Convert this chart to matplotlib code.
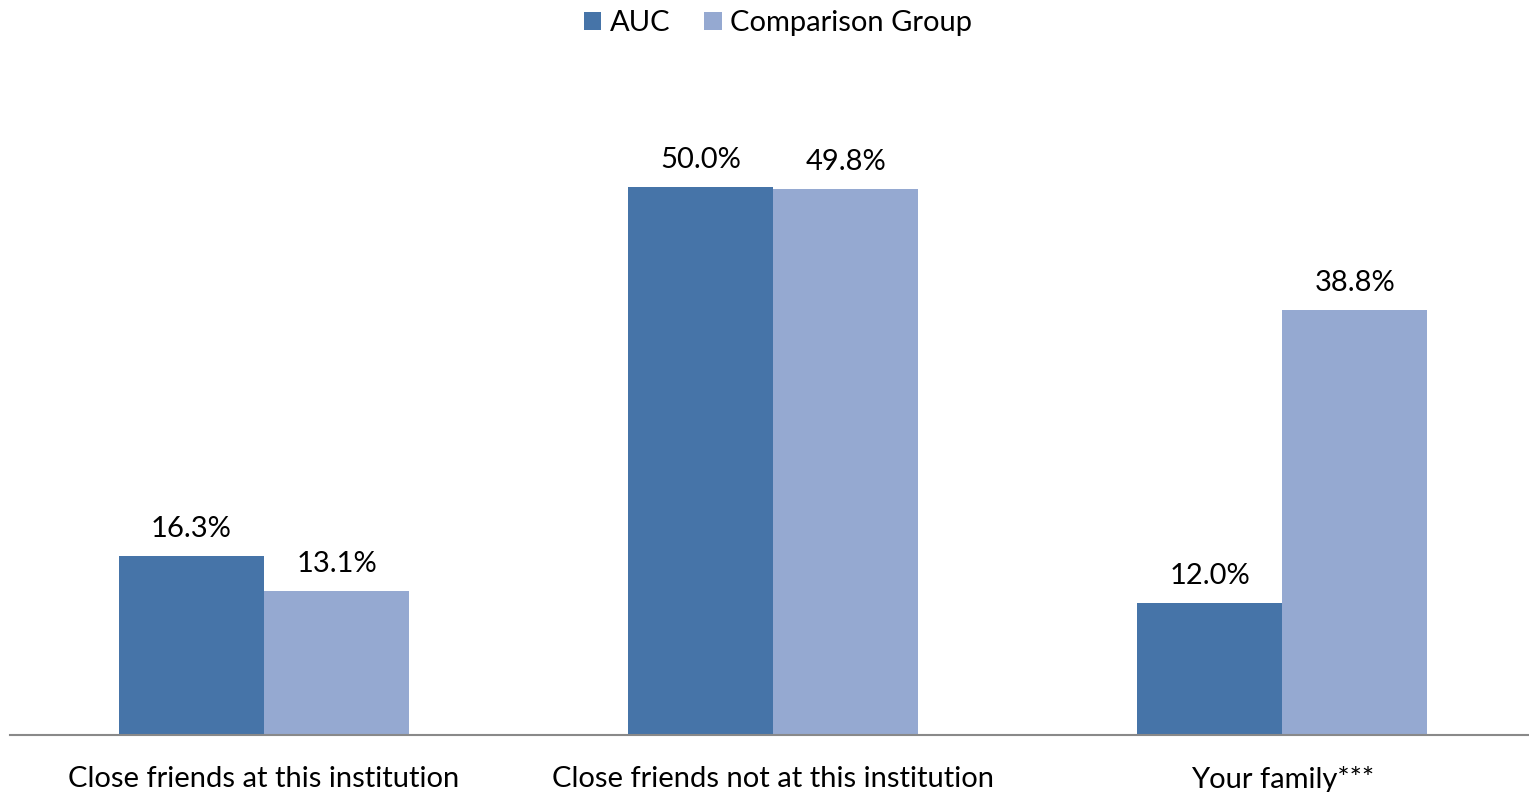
import matplotlib.pyplot as plt
import numpy as np

categories = ["Close friends at this institution",
              "Close friends not at this institution",
              "Your family***"]
auc = [16.3, 50.0, 12.0]
comparison = [13.1, 49.8, 38.8]
series_names = ["AUC", "Comparison Group"]

plt.rcParams['font.family'] = ['Lato', 'DejaVu Sans']

fig = plt.figure(figsize=(15.29, 7.92), dpi=100)
ax = fig.add_axes([9.5 / 1529, 57 / 792, 1 - 9.5 / 1529, (735 - 40) / 792])

x = np.arange(len(categories))
w = 0.285
c_auc = "#4674A8"
c_cmp = "#95A9D1"

b1 = ax.bar(x - w / 2, auc, w, color=c_auc, label=series_names[0])
b2 = ax.bar(x + w / 2, comparison, w, color=c_cmp, label=series_names[1])

for bars, vals in ((b1, auc), (b2, comparison)):
    for rect, v in zip(bars, vals):
        ax.text(rect.get_x() + rect.get_width() / 2, v + 1.3, f"{v:.1f}%",
                ha="center", va="bottom", fontsize=21, color="#000000")

ax.set_xlim(-0.5, 2.485)
ax.set_ylim(0, 695 / 10.96)
ax.set_yticks([])
ax.set_xticks(x)
ax.set_xticklabels(categories, fontsize=21)
ax.tick_params(axis="x", length=0, pad=22)
for s in ("top", "right", "left"):
    ax.spines[s].set_visible(False)
ax.spines["bottom"].set_color("#898989")
ax.spines["bottom"].set_linewidth(1.5)

fig.legend(loc="upper center", bbox_to_anchor=(778 / 1529, 1.02), ncol=2,
           frameon=False, fontsize=21, handlelength=0.6, handleheight=0.6,
           handletextpad=0.3, columnspacing=1.15)

fig.savefig("out.png", dpi=100)
